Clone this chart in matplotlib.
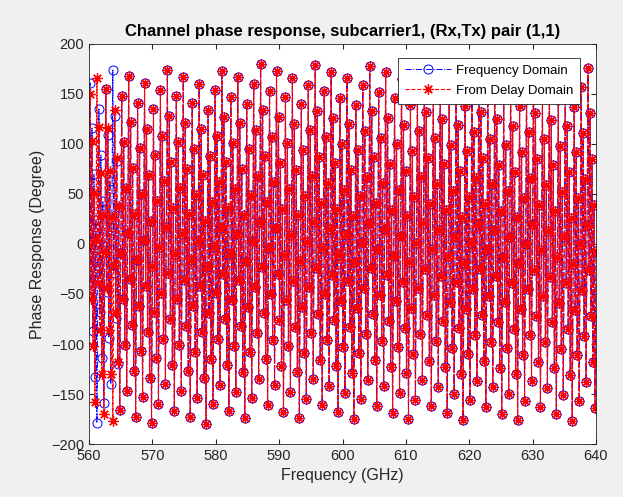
import numpy as np
import matplotlib
matplotlib.use("Agg")
import matplotlib.pyplot as plt

# frequency grid (GHz): 512 samples from 560 to 640
f_start, f_stop, n_points = 560, 640, 512

# phase (degree), one value per frequency sample
phase_freq = [
    4, 161, -41, 116, -87, 70, -133, 24, -179, -22,
    135, -68, 89, -114, 43, -159, -2, 155, -48, 109,
    -94, 63, -140, 17, 174, -29, 128, -74, 83, -120,
    37, -166, -9, 148, -55, 102, -101, 56, -147, 11,
    168, -35, 122, -81, 76, -127, 30, -173, -16, 141,
    -62, 96, -107, 50, -153, 4, 161, -42, 115, -88,
    69, -134, 23, -179, -22, 135, -68, 89, -114, 43,
    -160, -3, 154, -49, 108, -95, 63, -140, 17, 174,
    -29, 128, -75, 82, -121, 36, -167, -10, 148, -55,
    102, -101, 56, -147, 10, 167, -36, 121, -82, 75,
    -127, 30, -173, -16, 141, -62, 95, -108, 49, -154,
    3, 160, -42, 115, -88, 69, -134, 23, -180, -23,
    134, -69, 88, -115, 42, -160, -3, 154, -49, 108,
    -95, 62, -141, 16, 173, -30, 127, -75, 82, -121,
    36, -167, -10, 147, -56, 101, -102, 55, -148, 10,
    167, -36, 121, -82, 75, -128, 29, -174, -17, 140,
    -63, 95, -108, 49, -154, 3, 160, -43, 114, -89,
    68, -135, 22, 180, -23, 134, -69, 88, -115, 42,
    -161, -4, 153, -50, 107, -96, 62, -141, 16, 173,
    -30, 127, -76, 81, -122, 35, -168, -11, 147, -56,
    101, -102, 55, -148, 9, 166, -37, 120, -83, 74,
    -128, 29, -174, -17, 140, -63, 94, -109, 48, -155,
    2, 159, -43, 114, -89, 68, -135, 22, 179, -24,
    133, -70, 87, -116, 41, -161, -4, 153, -50, 107,
    -96, 61, -142, 15, 172, -31, 126, -76, 81, -122,
    35, -168, -11, 146, -57, 100, -103, 54, -149, 9,
    166, -37, 120, -83, 74, -129, 28, -175, -18, 139,
    -64, 94, -109, 48, -155, 2, 159, -44, 113, -90,
    67, -136, 21, 178, -24, 133, -70, 87, -116, 41,
    -162, -5, 152, -51, 106, -97, 61, -142, 15, 172,
    -31, 126, -77, 80, -123, 34, -169, -12, 146, -57,
    100, -103, 54, -149, 8, 165, -38, 119, -84, 73,
    -129, 28, -175, -18, 139, -64, 93, -110, 47, -156,
    1, 158, -44, 113, -90, 67, -136, 21, 178, -25,
    132, -71, 86, -117, 40, -162, -5, 152, -51, 106,
    -97, 60, -143, 14, 171, -32, 125, -77, 80, -123,
    34, -169, -12, 145, -58, 99, -104, 53, -150, 8,
    165, -38, 119, -84, 73, -130, 27, -176, -19, 138,
    -65, 93, -110, 47, -156, 1, 158, -45, 112, -91,
    66, -137, 20, 177, -25, 132, -71, 86, -117, 40,
    -163, -6, 151, -52, 105, -98, 60, -143, 14, 171,
    -32, 125, -78, 79, -124, 33, -170, -13, 145, -58,
    99, -104, 53, -150, 7, 164, -39, 118, -85, 72,
    -130, 27, -176, -19, 138, -65, 92, -111, 46, -157,
    0, 157, -45, 112, -91, 66, -137, 20, 177, -26,
    131, -72, 85, -118, 39, -163, -6, 151, -52, 105,
    -98, 59, -144, 13, 170, -33, 124, -78, 79, -124,
    33, -170, -13, 144, -59, 98, -105, 52, -151, 7,
    164, -39, 118, -85, 72, -131, 26, -177, -20, 137,
    -66, 92, -111, 46, -157, 0, 157, -46, 111, -92,
    65, -138, 19, 176, -26, 131, -72, 85, -118, 39,
    -164, -7,
]

# delay-domain result differs only over the first 32 samples (edge error)
phase_delay_edge = [
    -1, 150, -55, 103, -102, 51, -158, 4, 166, -39,
    117, -86, 71, -130, 29, -170, -8, 155, -44, 116,
    -86, 73, -130, 27, -177, -21, 134, -69, 86, -118,
    38, -166,
]
phase_delay = phase_delay_edge + phase_freq[len(phase_delay_edge):]

freq = np.linspace(f_start, f_stop, n_points)

plt.rcParams['font.family'] = ['Liberation Sans', 'DejaVu Sans']
fig = plt.figure(figsize=(6.23, 4.97), dpi=100, facecolor='#f0f0f0')
ax = fig.add_axes([89 / 623, 1 - 444 / 497, 507 / 623, 400 / 497])
ax.plot(freq, phase_freq, '-.', color='b', marker='o', mfc='none', ms=6.5, mew=0.7,
        lw=0.7, label='Frequency Domain')
ax.plot(freq, phase_delay, '--', color='r', marker=(8, 2, 0), ms=7.5, mew=0.9,
        lw=0.8, label='From Delay Domain')
ax.set_xlim(560, 640)
ax.set_ylim(-200, 200)
ax.set_xticks(np.arange(560, 641, 10))
ax.set_yticks(np.arange(-200, 201, 50))
ax.tick_params(direction='in', top=True, right=True, labelsize=10.5, colors='#262626')
for s in ax.spines.values():
    s.set_color('#262626')
    s.set_linewidth(0.6)
ax.set_xlabel('Frequency (GHz)', fontsize=11.5, color='#262626')
ax.set_ylabel('Phase Response (Degree)', fontsize=11.5, color='#262626')
ax.set_title('Channel phase response, subcarrier1, (Rx,Tx) pair (1,1)', fontsize=12,
             fontweight='bold')
leg = ax.legend(loc='upper right', bbox_to_anchor=(580 / 623, 1 - 58 / 497),
                bbox_transform=fig.transFigure, borderaxespad=0, fontsize=9.5,
                fancybox=False, framealpha=1, edgecolor='#262626', handlelength=3.5,
                handletextpad=0.4, borderpad=0.5, labelspacing=0.6)
leg.get_frame().set_linewidth(0.6)
fig.savefig('out.png', dpi=100, facecolor=fig.get_facecolor())
